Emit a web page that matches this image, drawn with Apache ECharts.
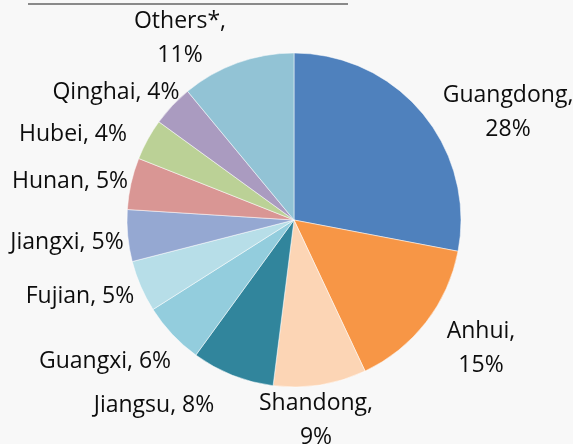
<!DOCTYPE html>
<html>
<head>
<meta charset="utf-8">
<script src="https://cdn.jsdelivr.net/npm/echarts@6/dist/echarts.min.js"></script>
<style>
  html, body { margin: 0; padding: 0; background: #f8f8f8; }
  #chart { width: 573px; height: 444px; }
</style>
</head>
<body>
<div id="chart"></div>
<script>
// provinces, clockwise from 12 o'clock
const provinces = ['Guangdong', 'Anhui', 'Shandong', 'Jiangsu', 'Guangxi', 'Fujian', 'Jiangxi', 'Hunan', 'Hubei', 'Qinghai', 'Others*']
const shares = [28, 15, 9, 8, 6, 5, 5, 5, 4, 4, 11]
const colors = ['#4f81bd', '#f79646', '#fcd5b5', '#31859c', '#93cddd', '#b7dee8', '#95a8d2', '#d99694', '#bbd196', '#aa9bc0', '#92c3d5']
// labels that wrap onto two lines
const twoLine = ['Guangdong', 'Anhui', 'Shandong', 'Others*']

// label centres (px), same order as provinces
const labelPos = [
  [508, 112], [481, 348], [316, 420], [154, 405], [105, 361], [80, 296],
  [67, 242], [70, 181], [73, 134], [116, 92], [180, 38]
]

const chart = echarts.init(document.getElementById('chart'))
chart.setOption({
  backgroundColor: '#f8f8f8',
  animation: false,
  graphic: [{
    type: 'line',
    shape: { x1: 28, y1: 4, x2: 348, y2: 4 },
    style: { stroke: '#666', lineWidth: 1.5 }
  }],
  series: [{
    type: 'pie',
    center: [294, 220],
    radius: 167,
    startAngle: 90,
    clockwise: true,
    data: provinces.map((p, i) => ({ name: p, value: shares[i], itemStyle: { color: colors[i] } })),
    itemStyle: { borderColor: '#fff', borderWidth: 0.5 },
    label: {
      show: true,
      position: 'outside',
      color: '#0d0d0d',
      fontSize: 23,
      fontFamily: 'Open Sans',
      lineHeight: 34,
      align: 'center',
      overflow: 'none',
      formatter: (p) => twoLine.includes(p.name) ? p.name + ',\n' + p.value + '%' : p.name + ', ' + p.value + '%'
    },
    labelLine: { show: false },
    labelLayout: (params) => ({
      x: labelPos[params.dataIndex][0],
      y: labelPos[params.dataIndex][1],
      align: 'center',
      verticalAlign: 'middle'
    })
  }]
})
</script>
</body>
</html>
